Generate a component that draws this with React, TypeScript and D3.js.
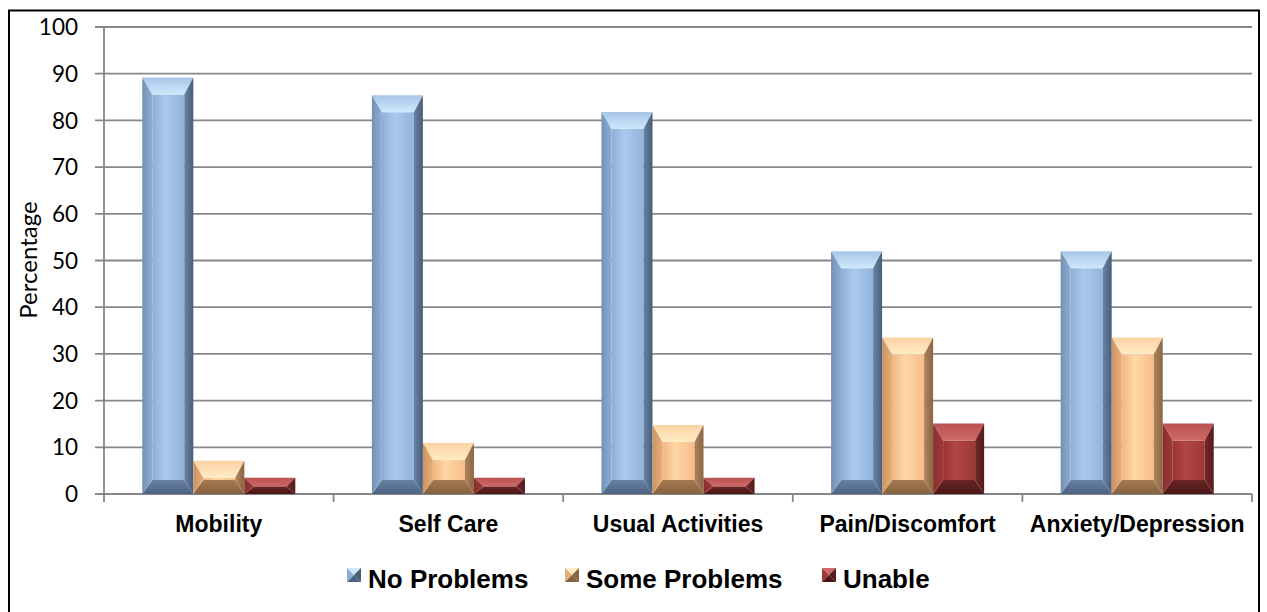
import React from "react";
import * as d3 from "d3";

const categories = ["Mobility", "Self Care", "Usual Activities", "Pain/Discomfort", "Anxiety/Depression"];
const seriesNames = ["No Problems", "Some Problems", "Unable"];
const noProblems = [89.2, 85.4, 81.8, 52.0, 52.0];
const someProblems = [7.1, 10.9, 14.8, 33.5, 33.5];
const unable = [3.5, 3.5, 3.5, 15.1, 15.1];
const yTicks = [0, 10, 20, 30, 40, 50, 60, 70, 80, 90, 100];

const seriesValues = [noProblems, someProblems, unable];

const palettes = [
  { // blue
    faceL: "#8cadd6", faceM: "#a9c9ef", faceR: "#93b3da",
    topO: "#a7c5e8", topI: "#cfe8fc",
    leftO: "#7590b4", leftI: "#8eaed5",
    rightI: "#6a84a5", rightO: "#485d7a",
    botI: "#6881a2", botO: "#4c6282",
  },
  { // orange
    faceL: "#f0b680", faceM: "#ffd6a6", faceR: "#f6bd88",
    topO: "#fcd2a4", topI: "#ffecc4",
    leftO: "#c99463", leftI: "#e8ae78",
    rightI: "#b08458", rightO: "#8a6644",
    botI: "#a67b52", botO: "#84613f",
  },
  { // red
    faceL: "#9a3533", faceM: "#b04644", faceR: "#9e3836",
    topO: "#b95250", topI: "#cf6a68",
    leftO: "#86302e", leftI: "#9c3a38",
    rightI: "#74282a", rightO: "#541b1a",
    botI: "#6a2323", botO: "#4a1716",
  },
];

const W = 1267;
const H = 612;
const plotLeft = 104;
const plotRight = 1252;
const plotTop = 27;
const plotBottom = 494;

function Bar({ x, y, w, h, p }: { x: number; y: number; w: number; h: number; p: number }) {
  if (h <= 0) return null;
  let t = 17, b = 14;
  if (h < t + b) {
    t = (h * 17) / 31;
    b = (h * 14) / 31;
  }
  const l = 10, r = 9;
  const pts = (arr: number[][]) => arr.map((q) => q.join(",")).join(" ");
  const x2 = x + w, y2 = y + h;
  const il = x + l, ir = x2 - r, it = y + t, ib = y2 - b;
  return (
    <g>
      <rect x={il} y={it} width={Math.max(0, ir - il)} height={Math.max(0, ib - it)} fill={`url(#face${p})`} />
      <polygon points={pts([[x, y], [x2, y], [ir, it], [il, it]])} fill={`url(#top${p})`} />
      <polygon points={pts([[x, y2], [x2, y2], [ir, ib], [il, ib]])} fill={`url(#bot${p})`} />
      <polygon points={pts([[x, y], [il, it], [il, ib], [x, y2]])} fill={`url(#left${p})`} />
      <polygon points={pts([[x2, y], [ir, it], [ir, ib], [x2, y2]])} fill={`url(#right${p})`} />
    </g>
  );
}

const legendLayout = [347, 565, 822];

export default function App() {
  const x = d3.scaleBand<string>().domain(categories).range([plotLeft, plotRight]).paddingInner(0).paddingOuter(0);
  const step = x.step();
  const groupW = (step * 3) / 4.5;
  const xs = d3.scaleBand<string>().domain(seriesNames).range([0, groupW]);
  const y = d3.scaleLinear().domain([0, 100]).range([plotBottom, plotTop]);

  return (
    <svg width={W} height={H} style={{ position: "absolute", left: 0, top: 0 }} xmlns="http://www.w3.org/2000/svg">
      <defs>
        {palettes.map((c, i) => (
          <React.Fragment key={i}>
            <linearGradient id={`face${i}`} x1="0" y1="0" x2="1" y2="0">
              <stop offset="0" stopColor={c.faceL} />
              <stop offset="0.4" stopColor={c.faceM} />
              <stop offset="1" stopColor={c.faceR} />
            </linearGradient>
            <linearGradient id={`top${i}`} x1="0" y1="0" x2="0" y2="1">
              <stop offset="0" stopColor={c.topO} />
              <stop offset="1" stopColor={c.topI} />
            </linearGradient>
            <linearGradient id={`bot${i}`} x1="0" y1="0" x2="0" y2="1">
              <stop offset="0" stopColor={c.botI} />
              <stop offset="1" stopColor={c.botO} />
            </linearGradient>
            <linearGradient id={`left${i}`} x1="0" y1="0" x2="1" y2="0">
              <stop offset="0" stopColor={c.leftO} />
              <stop offset="1" stopColor={c.leftI} />
            </linearGradient>
            <linearGradient id={`right${i}`} x1="0" y1="0" x2="1" y2="0">
              <stop offset="0" stopColor={c.rightI} />
              <stop offset="1" stopColor={c.rightO} />
            </linearGradient>
          </React.Fragment>
        ))}
      </defs>
      <rect x={0} y={0} width={W} height={H} fill="#ffffff" />
      {/* chart border */}
      <path d={`M9,${H + 2} V10.5 H1259 V${H + 2}`} fill="none" stroke="#000" strokeWidth={2} />

      {/* gridlines */}
      {yTicks.map((t) => (
        <line key={t} x1={plotLeft - 9} x2={plotRight} y1={y(t)} y2={y(t)} stroke="#878787" strokeWidth={1.8} />
      ))}
      {/* y axis */}
      <line x1={plotLeft} x2={plotLeft} y1={plotTop} y2={plotBottom + 8} stroke="#878787" strokeWidth={1.8} />
      {/* category ticks */}
      {categories.map((c) => (
        <line key={c} x1={(x(c) as number) + step} x2={(x(c) as number) + step} y1={plotBottom} y2={plotBottom + 8} stroke="#878787" strokeWidth={1.8} />
      ))}

      {/* y tick labels */}
      {yTicks.map((t) => (
        <text key={t} x={78} y={y(t)} dy="0.36em" textAnchor="end" fontFamily="Lato, 'Open Sans', sans-serif" fontSize={22.5} fill="#000">
          {t}
        </text>
      ))}
      <text transform={`translate(37,260) rotate(-90)`} textAnchor="middle" fontFamily="Lato, 'Open Sans', sans-serif" fontSize={24} fill="#000">
        Percentage
      </text>

      {/* bars */}
      {categories.map((c, ci) => {
        const gx = (x(c) as number) + (step - groupW) / 2;
        return seriesNames.map((s, si) => {
          const v = seriesValues[si][ci];
          const bx = gx + (xs(s) as number);
          return <Bar key={c + s} x={bx} y={y(v)} w={xs.bandwidth()} h={plotBottom - y(v)} p={si} />;
        });
      })}

      {/* category labels */}
      {categories.map((c) => (
        <text key={c} x={(x(c) as number) + step / 2} y={531.5} textAnchor="middle" fontFamily="'Liberation Sans', Arial, sans-serif" fontWeight="bold" fontSize={23} fill="#000">
          {c}
        </text>
      ))}

      {/* legend */}
      {seriesNames.map((s, i) => {
        const mx = legendLayout[i];
        const my = 568;
        const ms = 14;
        const c = palettes[i];
        const cx = mx + ms / 2, cy = my + ms / 2;
        return (
          <g key={s}>
            <polygon points={`${mx},${my} ${mx + ms},${my} ${cx},${cy}`} fill={c.topI} />
            <polygon points={`${mx},${my} ${cx},${cy} ${mx},${my + ms}`} fill={c.leftI} />
            <polygon points={`${mx + ms},${my} ${cx},${cy} ${mx + ms},${my + ms}`} fill={c.rightO} />
            <polygon points={`${mx},${my + ms} ${cx},${cy} ${mx + ms},${my + ms}`} fill={c.botO} />
            <text x={mx + ms + 7} y={588} fontFamily="'Liberation Sans', Arial, sans-serif" fontWeight="bold" fontSize={26} fill="#000">
              {s}
            </text>
          </g>
        );
      })}
    </svg>
  );
}
